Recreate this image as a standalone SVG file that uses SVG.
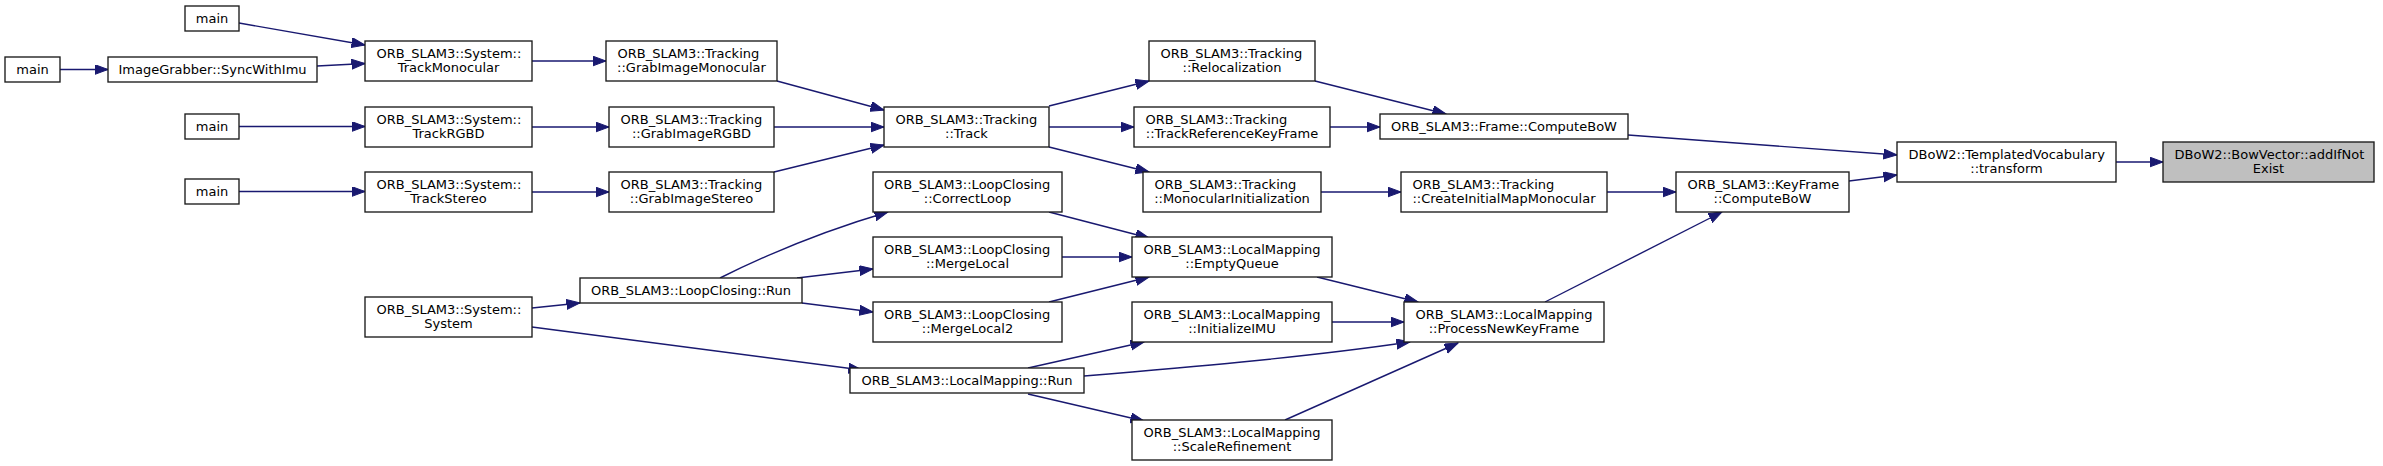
<svg xmlns="http://www.w3.org/2000/svg" width="2383" height="466" viewBox="0 0 2383 466">
<style>
.n rect{fill:#ffffff;stroke:#1a1a1a;stroke-width:1.35}
.n.root rect{fill:#bfbfbf}
.n text{font-family:"DejaVu Sans","Liberation Sans",Arial,sans-serif;font-size:13px;fill:#000000}
.n text.c{text-anchor:middle}
.e path{fill:none;stroke:#191970;stroke-width:1.4}
</style>
<defs>
<marker id="ah" markerUnits="userSpaceOnUse" markerWidth="15" markerHeight="11" refX="13.5" refY="5" orient="auto">
<path d="M0,0 L13.5,5 L0,10 z" fill="#191970" stroke="#191970" stroke-width="1"/>
</marker>
</defs>
<rect width="2383" height="466" fill="#ffffff"/>
<g id="edges" class="e">
<path marker-end="url(#ah)" d="M239,23 L365,45"/>
<path marker-end="url(#ah)" d="M60,69.5 L108,69.5"/>
<path marker-end="url(#ah)" d="M317,66 L365,63.5"/>
<path marker-end="url(#ah)" d="M532,61 L606,61"/>
<path marker-end="url(#ah)" d="M239,126.5 L365,126.5"/>
<path marker-end="url(#ah)" d="M532,127 L609,127"/>
<path marker-end="url(#ah)" d="M239,191.5 L365,191.5"/>
<path marker-end="url(#ah)" d="M532,192 L609,192"/>
<path marker-end="url(#ah)" d="M777,81 L884,110"/>
<path marker-end="url(#ah)" d="M774,127 L884,127"/>
<path marker-end="url(#ah)" d="M774,172 L884,145"/>
<path marker-end="url(#ah)" d="M1049,106 L1149,81"/>
<path marker-end="url(#ah)" d="M1049,127 L1134,127"/>
<path marker-end="url(#ah)" d="M1049,147 L1149,172"/>
<path marker-end="url(#ah)" d="M1315,81 L1446,114"/>
<path marker-end="url(#ah)" d="M1330,127 L1380,127"/>
<path marker-end="url(#ah)" d="M1321,192 L1401,192"/>
<path marker-end="url(#ah)" d="M1607,192 L1676,192"/>
<path marker-end="url(#ah)" d="M1628,135 L1897,155"/>
<path marker-end="url(#ah)" d="M1849,181 L1897,175"/>
<path marker-end="url(#ah)" d="M2116,162 L2163,162"/>
<path marker-end="url(#ah)" d="M532,308 L580,303"/>
<path marker-end="url(#ah)" d="M532,327 L862,370"/>
<path marker-end="url(#ah)" d="M720,278 C760,258 820,232 888,212"/>
<path marker-end="url(#ah)" d="M797,278 L873,269"/>
<path marker-end="url(#ah)" d="M802,303 L873,312"/>
<path marker-end="url(#ah)" d="M1049,212 L1149,238"/>
<path marker-end="url(#ah)" d="M1062,257 L1132,257"/>
<path marker-end="url(#ah)" d="M1049,302 L1149,277"/>
<path marker-end="url(#ah)" d="M1317,277 L1418,302"/>
<path marker-end="url(#ah)" d="M1332,322 L1404,322"/>
<path marker-end="url(#ah)" d="M1028,368 L1144,342"/>
<path marker-end="url(#ah)" d="M1084,376 C1180,368 1300,358 1410,342"/>
<path marker-end="url(#ah)" d="M1028,394 L1144,421"/>
<path marker-end="url(#ah)" d="M1285,420 L1458,343"/>
<path marker-end="url(#ah)" d="M1545,302 L1722,212"/>
</g>
<g id="main1" class="n"><rect x="185" y="6" width="54" height="25"/><text class="c" x="212" y="23">main</text></g>
<g id="main2" class="n"><rect x="5" y="57" width="55" height="25"/><text class="c" x="32.5" y="74">main</text></g>
<g id="syncwithimu" class="n"><rect x="108" y="57" width="209" height="25"/><text class="c" x="212.5" y="74">ImageGrabber::SyncWithImu</text></g>
<g id="main3" class="n"><rect x="185" y="114" width="54" height="25"/><text class="c" x="212" y="131">main</text></g>
<g id="main4" class="n"><rect x="185" y="179" width="54" height="25"/><text class="c" x="212" y="196">main</text></g>
<g id="trackmonocular" class="n"><rect x="365" y="41" width="167" height="40"/><text x="376.5" y="58">ORB_SLAM3::System::</text><text class="c" x="448.5" y="72">TrackMonocular</text></g>
<g id="trackrgbd" class="n"><rect x="365" y="107" width="167" height="40"/><text x="376.5" y="124">ORB_SLAM3::System::</text><text class="c" x="448.5" y="138">TrackRGBD</text></g>
<g id="trackstereo" class="n"><rect x="365" y="172" width="167" height="40"/><text x="376.5" y="189">ORB_SLAM3::System::</text><text class="c" x="448.5" y="203">TrackStereo</text></g>
<g id="system" class="n"><rect x="365" y="297" width="167" height="40"/><text x="376.5" y="314">ORB_SLAM3::System::</text><text class="c" x="448.5" y="328">System</text></g>
<g id="grabimagemonocular" class="n"><rect x="606" y="41" width="171" height="40"/><text x="617.5" y="58">ORB_SLAM3::Tracking</text><text class="c" x="691.5" y="72">::GrabImageMonocular</text></g>
<g id="grabimagergbd" class="n"><rect x="609" y="107" width="165" height="40"/><text x="620.5" y="124">ORB_SLAM3::Tracking</text><text class="c" x="691.5" y="138">::GrabImageRGBD</text></g>
<g id="grabimagestereo" class="n"><rect x="609" y="172" width="165" height="40"/><text x="620.5" y="189">ORB_SLAM3::Tracking</text><text class="c" x="691.5" y="203">::GrabImageStereo</text></g>
<g id="loopclosingrun" class="n"><rect x="580" y="278" width="222" height="25"/><text class="c" x="691" y="295">ORB_SLAM3::LoopClosing::Run</text></g>
<g id="track" class="n"><rect x="884" y="107" width="165" height="40"/><text x="895.5" y="124">ORB_SLAM3::Tracking</text><text class="c" x="966.5" y="138">::Track</text></g>
<g id="correctloop" class="n"><rect x="873" y="172" width="189" height="40"/><text x="884" y="189">ORB_SLAM3::LoopClosing</text><text class="c" x="967.5" y="203">::CorrectLoop</text></g>
<g id="mergelocal" class="n"><rect x="873" y="237" width="189" height="40"/><text x="884" y="254">ORB_SLAM3::LoopClosing</text><text class="c" x="967.5" y="268">::MergeLocal</text></g>
<g id="mergelocal2" class="n"><rect x="873" y="302" width="189" height="40"/><text x="884" y="319">ORB_SLAM3::LoopClosing</text><text class="c" x="967.5" y="333">::MergeLocal2</text></g>
<g id="localmappingrun" class="n"><rect x="850" y="368" width="234" height="25"/><text class="c" x="967" y="385">ORB_SLAM3::LocalMapping::Run</text></g>
<g id="relocalization" class="n"><rect x="1149" y="41" width="166" height="40"/><text x="1160.5" y="58">ORB_SLAM3::Tracking</text><text class="c" x="1232" y="72">::Relocalization</text></g>
<g id="trackreferencekeyframe" class="n"><rect x="1134" y="107" width="196" height="40"/><text x="1145.5" y="124">ORB_SLAM3::Tracking</text><text class="c" x="1232" y="138">::TrackReferenceKeyFrame</text></g>
<g id="monocularinitialization" class="n"><rect x="1143" y="172" width="178" height="40"/><text x="1154.5" y="189">ORB_SLAM3::Tracking</text><text class="c" x="1232" y="203">::MonocularInitialization</text></g>
<g id="emptyqueue" class="n"><rect x="1132" y="237" width="200" height="40"/><text x="1143.5" y="254">ORB_SLAM3::LocalMapping</text><text class="c" x="1232" y="268">::EmptyQueue</text></g>
<g id="initializeimu" class="n"><rect x="1132" y="302" width="200" height="40"/><text x="1143.5" y="319">ORB_SLAM3::LocalMapping</text><text class="c" x="1232" y="333">::InitializeIMU</text></g>
<g id="scalerefinement" class="n"><rect x="1132" y="420" width="200" height="40"/><text x="1143.5" y="437">ORB_SLAM3::LocalMapping</text><text class="c" x="1232" y="451">::ScaleRefinement</text></g>
<g id="framecomputebow" class="n"><rect x="1380" y="114" width="248" height="25"/><text class="c" x="1504" y="131">ORB_SLAM3::Frame::ComputeBoW</text></g>
<g id="createinitialmapmonocular" class="n"><rect x="1401" y="172" width="206" height="40"/><text x="1412.5" y="189">ORB_SLAM3::Tracking</text><text class="c" x="1504" y="203">::CreateInitialMapMonocular</text></g>
<g id="processnewkeyframe" class="n"><rect x="1404" y="302" width="200" height="40"/><text x="1415.5" y="319">ORB_SLAM3::LocalMapping</text><text class="c" x="1504" y="333">::ProcessNewKeyFrame</text></g>
<g id="keyframecomputebow" class="n"><rect x="1676" y="172" width="173" height="40"/><text x="1687.5" y="189">ORB_SLAM3::KeyFrame</text><text class="c" x="1762.5" y="203">::ComputeBoW</text></g>
<g id="transform" class="n"><rect x="1897" y="142" width="219" height="40"/><text x="1908.5" y="159">DBoW2::TemplatedVocabulary</text><text class="c" x="2006.5" y="173">::transform</text></g>
<g id="addifnotexist" class="n root"><rect x="2163" y="142" width="211" height="40"/><text x="2174.5" y="159">DBoW2::BowVector::addIfNot</text><text class="c" x="2268.5" y="173">Exist</text></g>
</svg>
